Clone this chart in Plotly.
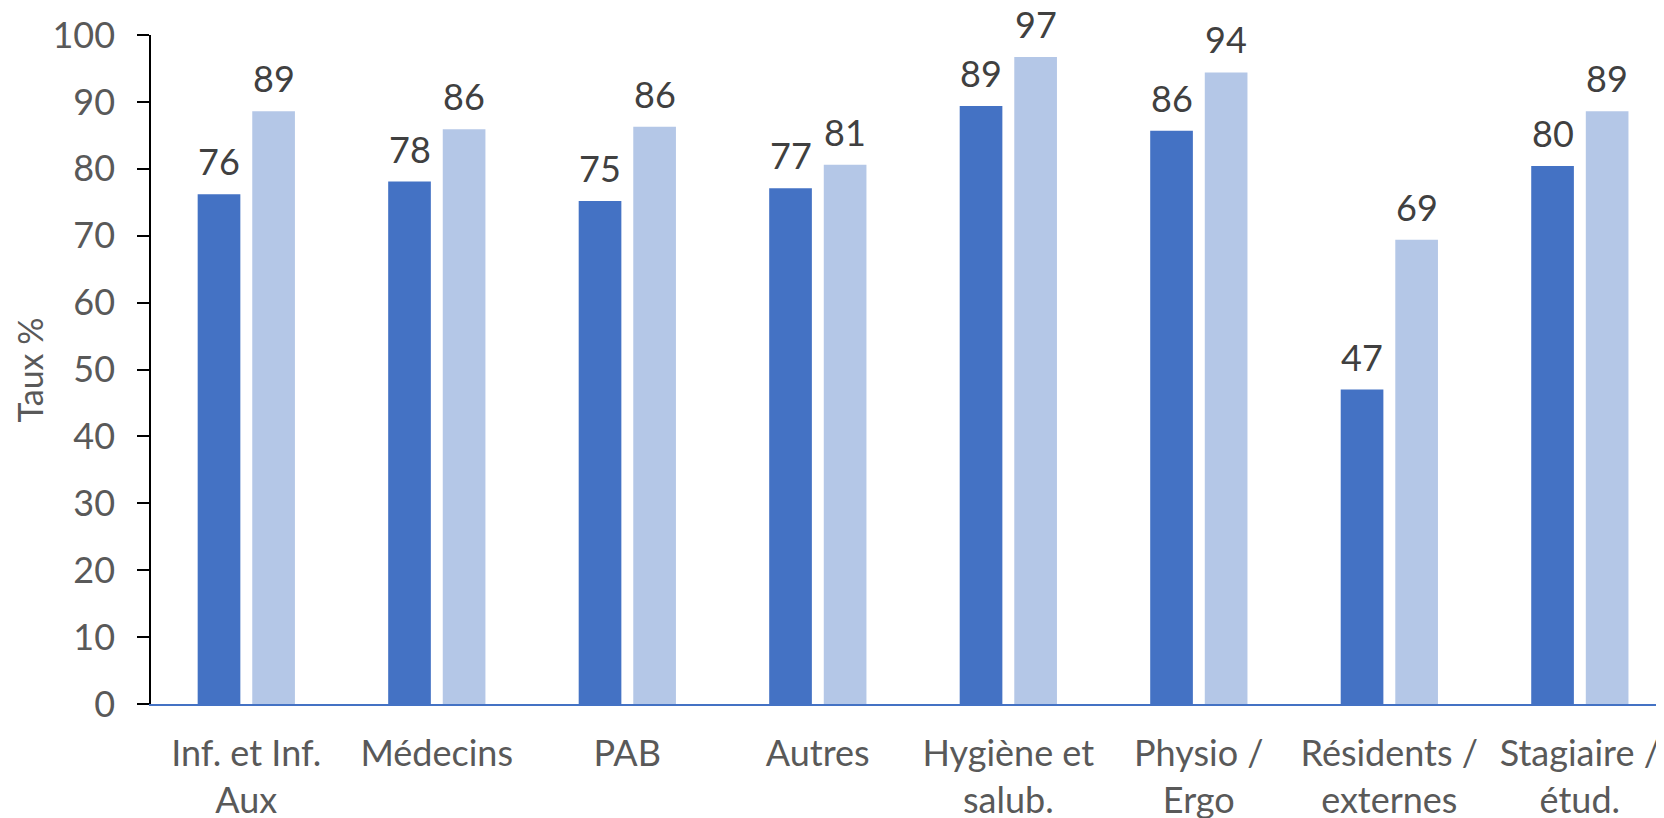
import plotly.graph_objects as go

categories = ["Inf. et Inf.<br>Aux", "Médecins", "PAB", "Autres",
              "Hygiène et<br>salub.", "Physio /<br>Ergo", "Résidents /<br>externes",
              "Stagiaire /<br>étud."]
serie_1 = [76.2, 78.1, 75.2, 77.1, 89.4, 85.7, 47.0, 80.4]
serie_2 = [88.6, 85.9, 86.3, 80.6, 96.7, 94.4, 69.4, 88.6]
y_ticks = [0, 10, 20, 30, 40, 50, 60, 70, 80, 90, 100]

x_pos = list(range(len(categories)))
bar_w = 0.224
off_1 = -0.255
off_2 = 0.0315
FONT = "Lato"

fig = go.Figure()
fig.add_trace(go.Bar(x=x_pos, y=serie_1, width=bar_w, offset=off_1,
                     marker=dict(color="#4472C4", line=dict(width=0)),
                     showlegend=False, hoverinfo="y"))
fig.add_trace(go.Bar(x=x_pos, y=serie_2, width=bar_w, offset=off_2,
                     marker=dict(color="#B4C7E7", line=dict(width=0)),
                     showlegend=False, hoverinfo="y"))

annotations = []
for xs, vals, off in ((x_pos, serie_1, off_1), (x_pos, serie_2, off_2)):
    for x, v in zip(xs, vals):
        annotations.append(dict(x=x + off + bar_w / 2, y=v, xref="x", yref="y",
                                text=f"{round(v)}", showarrow=False,
                                yanchor="bottom", xanchor="center", yshift=9,
                                font=dict(family=FONT, size=36, color="#404040")))
annotations.append(dict(x=-0.080, y=0.5, xref="paper", yref="paper",
                        text="Taux %", textangle=-90, showarrow=False,
                        xanchor="center", yanchor="middle",
                        font=dict(family=FONT, size=34, color="#595959")))

fig.update_layout(
    width=1656, height=810,
    margin=dict(l=143, r=0, t=27, b=114),
    paper_bgcolor="white", plot_bgcolor="white",
    barmode="overlay",
    annotations=annotations,
    font=dict(family=FONT, color="#595959", size=36),
)
fig.update_xaxes(range=[-0.5, 7.442], tickmode="array", tickvals=x_pos,
                 ticktext=categories, showgrid=False, zeroline=False,
                 showline=True, linecolor="#4472C4", linewidth=2,
                 ticks="", ticklabelstandoff=17, automargin=False,
                 tickfont=dict(family=FONT, size=36, color="#595959"))
fig.update_yaxes(range=[0, 100], tickmode="array", tickvals=y_ticks,
                 showgrid=False, zeroline=False,
                 showline=True, linecolor="#000000", linewidth=1.5,
                 ticks="outside", ticklen=12, tickcolor="#000000", tickwidth=1.5,
                 ticklabelstandoff=15, automargin=False,
                 tickfont=dict(family=FONT, size=36, color="#595959"))

fig.write_html("out.html")
